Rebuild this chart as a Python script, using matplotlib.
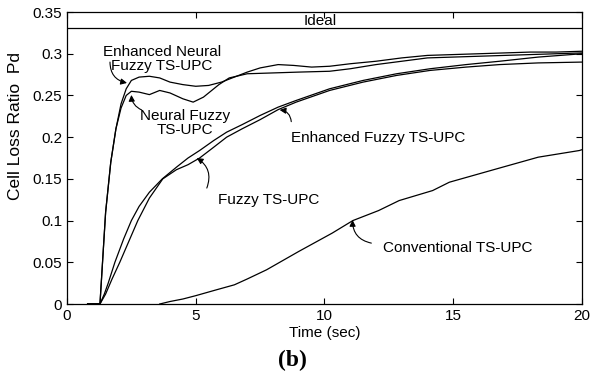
import numpy as np
import matplotlib
matplotlib.use("Agg")
import matplotlib.pyplot as plt

plt.rcParams['font.family'] = ['Liberation Sans', 'DejaVu Sans']

# curves (time in sec, cell loss ratio)
t_enh_neural = [0.8, 1.28, 1.4, 1.5, 1.7, 1.9, 2.1, 2.3, 2.5, 2.8, 3.2, 3.6, 4.0, 4.5, 5.0, 5.5,
                6.0, 6.5, 7.0, 7.5, 8.2, 8.8, 9.5, 10.2, 11, 12, 13, 14, 15, 16, 17, 18, 19, 20]
p_enh_neural = [0, 0, 0.06, 0.11, 0.17, 0.21, 0.24, 0.258, 0.268, 0.272, 0.273, 0.271, 0.266, 0.263,
                0.261, 0.262, 0.266, 0.272, 0.278, 0.283, 0.287, 0.286, 0.284, 0.285, 0.288, 0.291,
                0.295, 0.298, 0.299, 0.300, 0.301, 0.302, 0.302, 0.303]

t_neural = [0.8, 1.28, 1.4, 1.5, 1.7, 1.9, 2.1, 2.3, 2.5, 2.8, 3.2, 3.6, 4.0, 4.5, 4.9, 5.3, 5.9,
            6.3, 7.0, 8.0, 9.0, 10.2, 11, 12, 13, 14, 15, 16, 17, 18, 19, 20]
p_neural = [0, 0, 0.06, 0.11, 0.17, 0.21, 0.235, 0.25, 0.255, 0.254, 0.251, 0.256, 0.253, 0.246,
            0.242, 0.248, 0.263, 0.271, 0.276, 0.277, 0.278, 0.279, 0.282, 0.287, 0.291, 0.295,
            0.296, 0.297, 0.298, 0.299, 0.300, 0.301]

t_enh_fuzzy = [0.8, 1.28, 1.45, 1.6, 1.86, 2.2, 2.5, 2.8, 3.2, 3.7, 4.25, 4.7, 5.15, 5.7, 6.2, 6.8,
               7.5, 8.2, 8.9, 10.2, 11.5, 12.8, 14.1, 15.5, 16.8, 18.3, 20]
p_enh_fuzzy = [0, 0, 0.012, 0.025, 0.05, 0.078, 0.1, 0.117, 0.134, 0.15, 0.164, 0.175, 0.184, 0.196,
               0.206, 0.215, 0.226, 0.236, 0.244, 0.258, 0.268, 0.276, 0.282, 0.287, 0.291, 0.296,
               0.300]

t_fuzzy = [0.8, 1.28, 1.5, 1.75, 2.05, 2.4, 2.75, 3.2, 3.72, 4.25, 4.7, 5.15, 5.7, 6.2, 6.8, 7.5,
           8.2, 8.9, 10.2, 11.5, 12.8, 14.1, 15.5, 16.8, 18.3, 20]
p_fuzzy = [0, 0, 0.012, 0.03, 0.05, 0.075, 0.1, 0.127, 0.15, 0.161, 0.167, 0.175, 0.188, 0.200,
           0.210, 0.221, 0.233, 0.242, 0.256, 0.266, 0.274, 0.280, 0.284, 0.287, 0.289, 0.290]

t_conv = [3.6, 4.0, 4.5, 5.0, 5.8, 6.5, 7.0, 7.75, 9.0, 10.3, 11.1, 12.1, 12.9, 14.2, 14.85,
          16.8, 18.3, 19.9, 20]
p_conv = [0, 0.003, 0.006, 0.010, 0.017, 0.023, 0.030, 0.041, 0.063, 0.085, 0.100, 0.112, 0.124,
          0.136, 0.146, 0.163, 0.176, 0.184, 0.185]

ideal = 0.331

yticks = [0, 0.05, 0.1, 0.15, 0.2, 0.25, 0.3, 0.35]
ytick_labels = ['0', '0.05', '0.1', '0.15', '0.2', '0.25', '0.3', '0.35']
xticks = [0, 5, 10, 15, 20]

fig = plt.figure(figsize=(5.95, 3.77), dpi=100)
ax = fig.add_axes([0.1126, 0.1936, 0.8655, 0.7745])

for t, p in [(t_enh_neural, p_enh_neural), (t_neural, p_neural),
             (t_enh_fuzzy, p_enh_fuzzy), (t_fuzzy, p_fuzzy), (t_conv, p_conv)]:
    ax.plot(t, p, color='black', lw=0.9)
ax.axhline(ideal, color='black', lw=0.9)

ax.set_xlim(0, 20)
ax.set_ylim(0, 0.35)
ax.set_xticks(xticks)
ax.set_xticklabels([str(x) for x in xticks])
ax.set_yticks(yticks)
ax.set_yticklabels(ytick_labels)
ax.tick_params(direction='in', top=True, right=True, labelsize=11, length=4, width=0.8)
for s in ax.spines.values():
    s.set_linewidth(0.9)

ax.set_xlabel('Time (sec)', fontsize=11, labelpad=2)
ax.set_ylabel('Cell Loss Ratio  Pd', fontsize=12.5)
ax.yaxis.set_label_coords(-0.085, 0.61)

ax.text(9.2, ideal, 'Ideal', fontsize=11, ha='left', va='bottom')

# labels and arrows
fs = 11
ax.text(3.68, 0.294, 'Enhanced Neural\nFuzzy TS-UPC', fontsize=fs, ha='center', va='center',
        linespacing=1.0)
ax.text(4.57, 0.217, 'Neural Fuzzy\nTS-UPC', fontsize=fs, ha='center', va='center', linespacing=1.0)
ax.text(12.07, 0.199, 'Enhanced Fuzzy TS-UPC', fontsize=fs, ha='center', va='center')
ax.text(7.85, 0.1247, 'Fuzzy TS-UPC', fontsize=fs, ha='center', va='center')
ax.text(15.17, 0.067, 'Conventional TS-UPC', fontsize=fs, ha='center', va='center')

arrow = dict(arrowstyle='-|>', color='black', lw=0.8, mutation_scale=9, shrinkA=0, shrinkB=0)
ax.annotate('', xy=(2.33, 0.265), xytext=(1.67, 0.290),
            arrowprops=dict(arrow, connectionstyle='arc3,rad=0.4'))
ax.annotate('', xy=(2.5, 0.2506), xytext=(2.9, 0.2326),
            arrowprops=dict(arrow, connectionstyle='arc3,rad=-0.3'))
ax.annotate('', xy=(8.26, 0.2326), xytext=(8.71, 0.2186),
            arrowprops=dict(arrow, connectionstyle='arc3,rad=0.4'))
ax.annotate('', xy=(5.04, 0.175), xytext=(5.43, 0.139),
            arrowprops=dict(arrow, connectionstyle='arc3,rad=0.4'))
ax.annotate('', xy=(11.09, 0.1007), xytext=(11.82, 0.073),
            arrowprops=dict(arrow, connectionstyle='arc3,rad=-0.4'))

fig.text(0.492, 0.045, '(b)', fontsize=17, fontweight='bold', family='Liberation Serif',
         ha='center', va='center')

fig.savefig('out.png', dpi=100)
